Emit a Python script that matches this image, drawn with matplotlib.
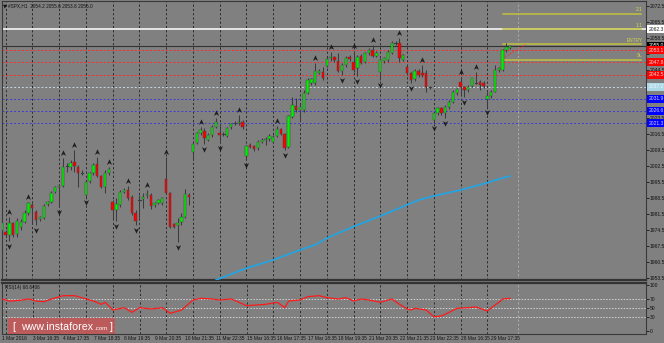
import matplotlib
matplotlib.use("Agg")
import matplotlib.pyplot as plt
from matplotlib import font_manager
from matplotlib.path import Path
from matplotlib.transforms import offset_copy, blended_transform_factory
import matplotlib.patches as mpatches

# ---------------- data ----------------
opens = [1974.5, 1973.8, 1972.3, 1977.4, 1972.7, 1976.0, 1978.1, 1981.8, 1985.4, 1982.5,
         1979.2, 1979.9, 1985.8, 1986.9, 1991.0, 1993.2, 1993.7, 2002.2, 2001.9, 2004.4,
         2001.9, 1999.6, 1989.8, 1995.9, 1999.6, 2003.4, 1998.1, 1993.2, 1999.3, 1986.6,
         1983.3, 1985.6, 1991.0, 1992.0, 1988.8, 1982.1, 1988.2, 1988.0, 1989.7, 1989.8,
         1985.4, 1986.5, 1986.5, 1996.7, 1990.8, 1977.0, 1976.7, 1978.1, 1980.0, 1989.8,
         2008.5, 2012.4, 2016.8, 2018.0, 2013.9, 2016.1, 2019.7, 2017.1, 2016.8, 2015.6,
         2019.4, 2021.3, 2021.2, 2021.9, 2007.0, 2011.7, 2011.2, 2010.2, 2012.9, 2014.0,
         2014.2, 2012.9, 2015.6, 2018.5, 2016.5, 2011.0, 2024.1, 2028.7, 2027.0, 2027.0,
         2034.5, 2038.7, 2038.7, 2043.3, 2043.8, 2046.4, 2049.6, 2050.0, 2048.4, 2044.1,
         2046.7, 2050.3, 2048.2, 2045.2, 2050.6, 2048.1, 2051.8, 2053.2, 2050.6, 2043.8,
         2048.4, 2048.9, 2052.1, 2056.2, 2056.5, 2049.0, 2045.6, 2043.0, 2040.4, 2044.0,
         2043.0, 2043.0, 2037.2, 2022.6, 2025.5, 2027.7, 2025.5, 2028.1, 2030.6, 2034.3,
         2039.4, 2036.9, 2035.7, 2037.5, 2039.4, 2039.4, 2039.0, 2031.7, 2033.1, 2035.0,
         2044.5, 2044.5, 2053.2, 2054.2]
highs = [1978.1, 1974.5, 1980.0, 1978.1, 1979.6, 1979.2, 1983.3, 1986.9, 1986.2, 1983.3,
         1980.8, 1985.8, 1987.2, 1991.5, 1993.8, 1994.5, 2005.9, 2003.7, 2005.1, 2009.5,
         2002.9, 2000.8, 1996.4, 2000.0, 2003.7, 2006.3, 1998.6, 2000.8, 2002.2, 1987.6,
         1988.4, 1992.0, 1992.7, 1993.7, 1989.8, 1983.3, 1989.8, 1990.5, 1992.0, 1990.5,
         1986.9, 1988.0, 1989.1, 2006.6, 1991.3, 1977.4, 1979.6, 1981.8, 1992.4, 1990.5,
         2012.4, 2017.5, 2019.7, 2019.0, 2016.8, 2020.4, 2023.5, 2020.0, 2017.5, 2019.7,
         2021.5, 2022.3, 2025.0, 2022.6, 2011.7, 2012.4, 2011.7, 2014.0, 2014.6, 2015.3,
         2016.5, 2016.1, 2020.0, 2019.0, 2016.8, 2025.0, 2032.8, 2032.1, 2029.5, 2035.7,
         2041.0, 2041.2, 2047.4, 2045.0, 2046.0, 2050.3, 2052.5, 2050.8, 2051.8, 2047.4,
         2050.6, 2051.0, 2052.6, 2051.0, 2051.3, 2052.5, 2054.0, 2055.4, 2052.8, 2049.6,
         2050.3, 2053.2, 2057.0, 2057.2, 2058.4, 2051.5, 2046.7, 2043.8, 2044.8, 2044.8,
         2046.7, 2044.5, 2037.6, 2026.3, 2028.4, 2028.4, 2029.2, 2031.3, 2035.7, 2036.7,
         2041.6, 2037.6, 2038.0, 2041.0, 2043.5, 2040.1, 2039.7, 2035.0, 2035.7, 2046.7,
         2046.0, 2053.5, 2056.2, 2055.6]
lows = [1973.8, 1971.6, 1969.5, 1971.6, 1971.6, 1974.5, 1977.4, 1981.0, 1977.5, 1976.7,
        1978.5, 1979.2, 1985.0, 1986.2, 1990.5, 1984.7, 1993.5, 2000.0, 2000.8, 2000.0,
        1993.2, 1998.6, 1989.1, 1995.2, 1998.6, 1997.8, 1992.7, 1990.8, 1998.6, 1979.5,
        1978.4, 1984.7, 1990.5, 1987.6, 1981.1, 1976.7, 1979.6, 1984.0, 1988.4, 1983.6,
        1984.7, 1986.0, 1985.4, 1990.2, 1975.2, 1975.5, 1969.4, 1976.7, 1979.6, 1985.4,
        2005.1, 2012.2, 2016.1, 2012.0, 2013.5, 2015.3, 2019.0, 2012.4, 2015.7, 2015.0,
        2018.8, 2020.6, 2020.6, 2018.8, 2005.1, 2010.2, 2009.2, 2009.5, 2012.4, 2011.7,
        2013.6, 2012.4, 2015.0, 2016.0, 2009.5, 2010.2, 2023.3, 2026.3, 2022.0, 2026.3,
        2034.0, 2037.9, 2038.0, 2042.6, 2040.1, 2046.0, 2048.5, 2048.2, 2043.8, 2042.3,
        2046.0, 2048.6, 2043.8, 2042.0, 2047.0, 2047.4, 2051.0, 2050.0, 2050.0, 2040.1,
        2047.7, 2048.2, 2051.5, 2055.5, 2048.1, 2048.5, 2042.3, 2038.7, 2039.8, 2041.6,
        2041.5, 2035.0, 2036.2, 2021.5, 2024.8, 2024.8, 2023.5, 2027.5, 2030.0, 2033.6,
        2033.5, 2032.5, 2035.0, 2036.9, 2038.3, 2035.7, 2036.5, 2028.5, 2032.4, 2034.8,
        2043.8, 2044.2, 2052.5, 2053.8]
closes = [1977.4, 1972.3, 1977.7, 1972.3, 1978.6, 1978.0, 1982.1, 1986.2, 1984.0, 1978.9,
          1980.0, 1985.1, 1986.6, 1990.8, 1993.2, 1993.8, 2002.2, 2002.5, 2003.9, 2002.5,
          1999.6, 1999.3, 1995.6, 1999.6, 2002.9, 1998.3, 1993.2, 1999.6, 2001.2, 1983.3,
          1985.9, 1991.0, 1992.0, 1988.4, 1981.8, 1978.6, 1987.8, 1989.1, 1990.2, 1985.1,
          1986.2, 1987.6, 1988.4, 1990.5, 1976.0, 1976.0, 1977.4, 1980.0, 1990.1, 1988.8,
          2012.0, 2016.8, 2018.3, 2014.6, 2016.1, 2019.7, 2021.9, 2016.1, 2016.5, 2019.0,
          2020.9, 2021.5, 2021.9, 2019.4, 2011.2, 2011.0, 2009.9, 2013.1, 2013.9, 2014.5,
          2015.8, 2015.3, 2018.7, 2016.5, 2010.5, 2024.4, 2029.2, 2027.0, 2028.4, 2034.6,
          2040.1, 2040.5, 2044.2, 2044.2, 2040.8, 2049.2, 2050.1, 2048.9, 2044.1, 2046.7,
          2049.9, 2049.3, 2044.5, 2050.3, 2047.7, 2051.8, 2053.2, 2050.6, 2052.1, 2048.9,
          2049.6, 2052.5, 2056.2, 2056.5, 2049.9, 2051.0, 2043.0, 2040.1, 2044.0, 2042.3,
          2042.3, 2036.9, 2036.9, 2025.5, 2027.7, 2025.5, 2028.4, 2030.6, 2035.0, 2036.0,
          2036.9, 2035.7, 2037.2, 2040.8, 2039.0, 2037.9, 2037.5, 2033.1, 2035.0, 2044.5,
          2045.2, 2053.2, 2054.7, 2055.0]

fractal_up_bars = [2, 7, 16, 19, 25, 28, 33, 38, 43, 52, 56, 62, 72, 82, 86, 92, 97,
                   104, 110, 120, 124]
fractal_down_bars = [2, 9, 15, 22, 30, 35, 46, 53, 57, 64, 74, 89, 93, 99, 107, 113,
                     116, 121, 127]

ma_bars = [56, 64, 71, 78, 82, 85, 92, 99, 106, 109, 113, 120, 127, 130, 133]
ma_values = [1952.6, 1957.8, 1961.4, 1965.8, 1968.0, 1970.9, 1976.0, 1980.6, 1985.5,
             1987.6, 1989.4, 1992.0, 1995.2, 1996.8, 1998.1]

rsi_bars = [0, 2, 5, 7, 9, 11, 13, 16, 19, 22, 24, 26, 27, 29, 32, 34, 36, 39, 42, 44,
            47, 50, 52, 55, 57, 60, 64, 69, 72, 74, 75, 78, 80, 83, 85, 88, 90, 92, 94,
            96, 99, 102, 104, 106, 107, 108, 111, 113, 115, 117, 119, 122, 124, 127, 129,
            130, 131, 133]
rsi_values = [69.6, 65.0, 67.0, 69.6, 65.0, 63.7, 69.6, 76.8, 76.8, 69.6, 65.0, 58.0,
              62.4, 45.7, 50.7, 40.6, 50.7, 47.8, 50.7, 38.4, 45.7, 67.4, 71.0, 69.6,
              67.4, 69.6, 55.0, 58.0, 62.4, 50.7, 65.2, 67.4, 74.6, 76.8, 72.4, 69.6,
              72.4, 65.2, 69.6, 67.4, 62.4, 69.6, 58.0, 47.8, 45.7, 49.3, 45.7, 31.0,
              32.6, 40.6, 49.3, 50.7, 52.2, 43.5, 56.5, 62.4, 69.6, 71.0]
rsi_last = 68.6406

date_labels = ["1 Mar 2016", "3 Mar 16:35", "4 Mar 17:35", "7 Mar 18:35", "8 Mar 19:35",
               "9 Mar 20:35", "10 Mar 21:35", "11 Mar 22:35", "15 Mar 16:35",
               "16 Mar 17:35", "17 Mar 18:35", "18 Mar 19:35", "21 Mar 20:35",
               "22 Mar 21:35", "23 Mar 22:35", "28 Mar 16:35", "29 Mar 17:35"]
date_label_step = 8
grid_step = 7

price_ticks = [1953.5, 1960.5, 1967.5, 1974.5, 1981.5, 1988.5, 1995.5, 2002.5, 2009.5,
               2016.5, 2023.5, 2030.5, 2037.5, 2044.5, 2051.5, 2058.5, 2065.5, 2072.5]
rsi_ticks = [0, 30, 50, 70, 100]

# pivot style levels: resistance (red), pivot (light), support (blue)
resist_levels = [2053.1, 2047.8, 2042.5]
pivot_level = 2037.2
support_levels = [2031.9, 2026.6, 2021.3]
white_level = 2062.3
bid_price = 2055.0

# trade plan
entry_price = 2055.7
stop_price = 2049.0
target1 = 2062.4
target2 = 2069.1
plan_start_bar = 131
plan_link = ([131, 137], [2049.6, 2055.7])

title = "#SPX,H1  2054.2 2055.6 2053.8 2055.0"

# ---------------- fonts ----------------
installed = {f.name for f in font_manager.fontManager.ttflist}
if 'Liberation Sans Narrow' in installed:
    FONT, K = 'Liberation Sans Narrow', 1.2
else:
    FONT, K = 'Liberation Sans', 1.0
plt.rcParams['font.family'] = [FONT, 'DejaVu Sans']
SMALL = 3.45 * K

# ---------------- figure ----------------
W, H = 664, 343
BG = '#808080'
fig = plt.figure(figsize=(W / 100, H / 100), dpi=100, facecolor=BG)


def px_axes(l, t, r, b):
    return fig.add_axes([l / W, 1 - b / H, (r - l) / W, (b - t) / H])


ax = px_axes(2, 1, 645.5, 280)
rax = px_axes(2, 283, 645.5, 333.5)
for a in (ax, rax):
    a.set_facecolor(BG)
    a.set_xlim(0.08, 168.36)
    for s in a.spines.values():
        s.set_color('#3a3a3a')
        s.set_linewidth(0.8)
ax.spines['bottom'].set_linewidth(1.6)
ax.spines['bottom'].set_color('#333333')
rax.spines['top'].set_linewidth(1.6)
rax.spines['top'].set_color('#333333')

ax.set_ylim(1952.63, 2074.68)
rax.set_ylim(-5.4, 104.3)

n = len(opens)
bars = list(range(n))

# vertical grid
for a in (ax, rax):
    for k in range(0, 19):
        a.axvline(1 + grid_step * k, color='#2a2a2a', lw=0.7, ls=(0, (2.2, 2.2)), zorder=1)
    a.axvline(135, color='#ababab', lw=0.7, ls=(0, (2.2, 2.2)), zorder=1)

# horizontal levels
ax.axhline(white_level, color='white', lw=1.1, zorder=2)
ax.axhline(bid_price, color='#333333', lw=0.8, zorder=2)
for lv in resist_levels:
    ax.axhline(lv, color='#ff2a2a', lw=0.7, ls=(0, (2, 2)), zorder=2)
ax.axhline(pivot_level, color='#c9d6e3', lw=0.7, ls=(0, (2, 2)), zorder=2)
for lv in support_levels:
    ax.axhline(lv, color='#3c3cd2', lw=0.7, ls=(0, (2, 2)), zorder=2)

# moving average
ax.plot(ma_bars, ma_values, color='#1ea6e8', lw=1.2, zorder=3, solid_capstyle='round')

# candles
bull, bear = '#00f000', '#ff0000'
for i in bars:
    o, h, l, c = opens[i], highs[i], lows[i], closes[i]
    ax.plot([i, i], [l, h], color='#3c3c3c', lw=0.75, zorder=4, solid_capstyle='butt')
    lo_b, hi_b = min(o, c), max(o, c)
    if hi_b - lo_b < 0.45:
        ax.plot([i - 0.3, i + 0.3], [c, c], color='#3c3c3c', lw=0.8, zorder=5)
    else:
        ax.bar(i, hi_b - lo_b, bottom=lo_b, width=0.62,
               color=bull if c >= o else bear, edgecolor='#3c3c3c', linewidth=0.3, zorder=5)

# fractal arrows
up_arrow = Path([(0, 1), (0.8, -0.75), (0, -0.25), (-0.8, -0.75), (0, 1)],
                [Path.MOVETO, Path.LINETO, Path.LINETO, Path.LINETO, Path.CLOSEPOLY])
down_arrow = Path([(0, -1), (0.8, 0.75), (0, 0.25), (-0.8, 0.75), (0, -1)],
                  [Path.MOVETO, Path.LINETO, Path.LINETO, Path.LINETO, Path.CLOSEPOLY])
t_up = offset_copy(ax.transData, fig=fig, x=0, y=5, units='dots')
t_dn = offset_copy(ax.transData, fig=fig, x=0, y=-5, units='dots')
ax.plot(fractal_up_bars, [highs[i] for i in fractal_up_bars], ls='none', marker=up_arrow,
        ms=4.6, color='#1e1e1e', mew=0, transform=t_up, zorder=6)
ax.plot(fractal_down_bars, [lows[i] for i in fractal_down_bars], ls='none', marker=down_arrow,
        ms=4.6, color='#1e1e1e', mew=0, transform=t_dn, zorder=6)

# trade plan lines
YEL = '#c2c23e'
for lv, txt in [(target2, '2:1'), (target1, '1:1'), (entry_price, 'ENTRY'), (stop_price, 'SL')]:
    ax.plot([plan_start_bar, 167.3], [lv, lv], color=YEL, lw=1.1, zorder=3)
    ax.text(167.6, lv + 0.6, txt, color='#d8d84a', fontsize=SMALL, ha='right', va='bottom',
            zorder=7)
ax.plot(plan_link[0], plan_link[1], color='#ff3030', lw=0.7, ls=(0, (1.5, 1.5)), zorder=3)

# level boxes on the price axis (they cover the nearby tick labels)
box_levels = [white_level, bid_price] + resist_levels + [pivot_level] + support_levels

# right price axis
ax.yaxis.tick_right()
ax.set_yticks(price_ticks)
ax.set_yticklabels(['' if min(abs(v - b) for b in box_levels) < 1.8 else f'{v:.1f}'
                    for v in price_ticks])
ax.tick_params(axis='y', labelsize=SMALL + 0.15, colors='#111111', length=2, width=0.6,
               pad=1.2)
ax.set_xticks([])

bt = blended_transform_factory(ax.transAxes, ax.transData)
boxes = [(white_level, 'white', '#222222'), (bid_price, 'black', 'white')]
boxes += [(lv, '#ff0000', '#ffd8d8') for lv in resist_levels]
boxes += [(pivot_level, '#add8e6', '#eef8ff')]
boxes += [(lv, '#0000ff', '#d0d0ff') for lv in support_levels]
for lv, fc, tc in boxes:
    ax.text(1.0045, lv, f'{lv:.1f}', transform=bt, fontsize=SMALL + 0.15, color=tc,
            ha='left', va='center', clip_on=False, zorder=10,
            bbox=dict(boxstyle='square,pad=0.3', fc=fc, ec='none'))

# RSI panel
rax.plot(rsi_bars, rsi_values, color='#ff1a1a', lw=0.9, zorder=4)
for lv in (70, 50, 30):
    rax.axhline(lv, color='#d4d4d4', lw=0.7, ls=(0, (1.5, 1.5)), zorder=2)
rax.yaxis.tick_right()
rax.set_yticks(rsi_ticks)
rax.set_yticklabels([str(v) for v in rsi_ticks])
rax.tick_params(axis='y', labelsize=SMALL + 0.15, colors='#111111', length=2, width=0.6,
                pad=1.2)
rax.set_xticks([date_label_step * j for j in range(len(date_labels))])
rax.set_xticklabels(date_labels, ha='left')
rax.tick_params(axis='x', labelsize=SMALL + 0.1, colors='#111111', length=0, pad=2.0)
rax.text(0.004, 0.96, f'RSI(14) {rsi_last:.4f}', transform=rax.transAxes, fontsize=SMALL,
         color='#111111', ha='left', va='top')

# chart header
fig.text(3 / W, 1 - 5.5 / H, '\u25BC', fontsize=3.6, color='#111111', va='center',
         family='DejaVu Sans')
fig.text(8 / W, 1 - 5.5 / H, title, fontsize=SMALL, color='#111111', va='center')

# watermark
fig.patches.append(mpatches.Rectangle((8 / W, 1 - 334 / H), 107 / W, 16 / H,
                                      transform=fig.transFigure, fc='#c75555', ec='none',
                                      alpha=0.85, zorder=20))
fig.text(12.5 / W, 1 - 326.5 / H, '[', fontsize=7.5, color='white', va='center', zorder=21,
         family='Liberation Sans')
fig.text(20.7 / W, 1 - 326.5 / H, 'www.instaforex', fontsize=7.7, color='white',
         va='center', zorder=21, family='Liberation Sans')
fig.text(94 / W, 1 - 328 / H, '.com', fontsize=4.4, color='white', va='center', zorder=21,
         family='Liberation Sans')
fig.text(109.5 / W, 1 - 326.5 / H, ']', fontsize=7.5, color='white', va='center', zorder=21,
         family='Liberation Sans')

fig.savefig('out.png', dpi=100, facecolor=BG)
